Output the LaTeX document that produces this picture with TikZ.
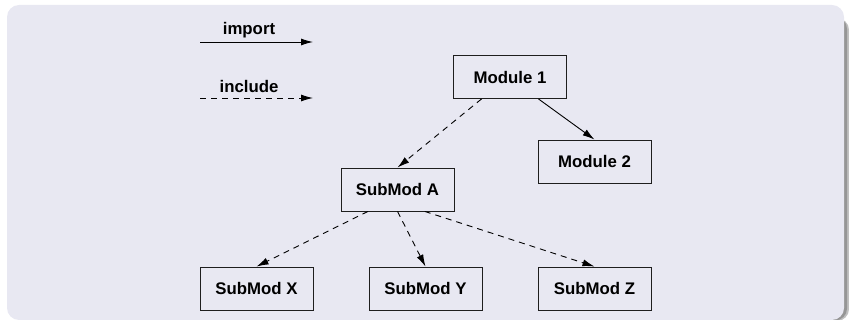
\documentclass[tikz,border=0pt]{standalone}
\usepackage{fontspec}
\setmainfont{Liberation Sans}
\usetikzlibrary{arrows.meta,calc}
\definecolor{bgblock}{RGB}{232,232,242}
\definecolor{shadowgray}{RGB}{150,150,150}
\definecolor{linegray}{RGB}{30,30,30}
\begin{document}
\begin{tikzpicture}[x=1pt,y=-1pt,
  modbox/.style={draw=linegray,line width=0.9pt,minimum width=113pt,minimum height=43pt,inner sep=0pt,font=\fontsize{16.8}{19}\selectfont\bfseries},
  imp/.style={line width=0.9pt,-{Latex[length=12pt,width=7pt]}},
  incl/.style={imp,dash pattern=on 6pt off 5pt},
  legendtext/.style={font=\fontsize{16.8}{19}\selectfont\bfseries,inner sep=0pt}]
\useasboundingbox (0,0) rectangle (849,320);
% shadow and block background
\fill[shadowgray!60,rounded corners=12pt] (30,18) rectangle (849,321);
\fill[shadowgray,rounded corners=12pt] (30,17) rectangle (847,320.5);
\fill[bgblock,rounded corners=12pt] (7,5) rectangle (844,320);
% legend
\coordinate (ia) at (200,42);
\coordinate (ib) at (313,42);
\coordinate (ca) at (200,98);
\coordinate (cb) at (313,98);
\draw[imp] (ia) -- (ib);
\draw[incl] (ca) -- (cb);
\node[legendtext] (timport) at (249,30) {import};
\node[legendtext] (tinclude) at (249,86) {include};
% modules
\node[modbox] (m1) at (510,77) {Module 1};
\node[modbox] (m2) at (594.5,161.5) {Module 2};
\node[modbox] (sa) at (397.5,189.5) {SubMod A};
\node[modbox] (sx) at (256.5,288.5) {SubMod X};
\node[modbox] (sy) at (425.5,288.5) {SubMod Y};
\node[modbox] (sz) at (594.5,288.5) {SubMod Z};
% connectors
\draw[imp] ($(m1.south west)!0.75!(m1.south east)$) -- (m2.north);
\draw[incl] ($(m1.south west)!0.25!(m1.south east)$) -- (sa.north);
\draw[incl] ($(sa.south west)!0.24!(sa.south east)$) -- (sx.north);
\draw[incl] (sa.south) -- (sy.north);
\draw[incl] ($(sa.south west)!0.74!(sa.south east)$) -- (sz.north);
\end{tikzpicture}
\end{document}
